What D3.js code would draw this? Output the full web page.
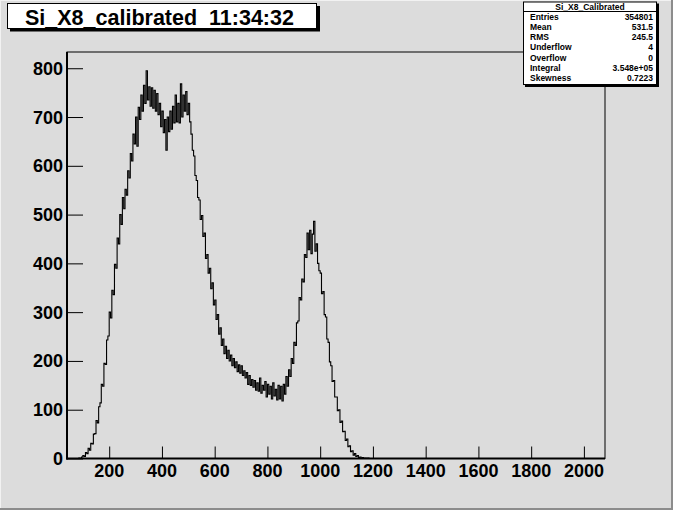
<!DOCTYPE html>
<html><head><meta charset="utf-8">
<script src="https://cdn.jsdelivr.net/npm/d3@7"></script>
<style>
html,body{margin:0;padding:0;background:#dcdcdc;}
svg{display:block;}
text{font-family:"Liberation Sans",Arial,Helvetica,sans-serif;font-weight:bold;}
</style>
</head><body>
<svg id="c" width="673" height="510"></svg>
<script>
// ---- data ----
const titleText = "Si_X8_calibrated  11:34:32";
const statsTitle = "Si_X8_Calibrated";
const statsLabels = ["Entries", "Mean", "RMS", "Underflow", "Overflow", "Integral", "Skewness"];
const statsValues = ["354801", "531.5", "245.5", "4", "0", "3.548e+05", "0.7223"];
const xTickValues = [200, 400, 600, 800, 1000, 1200, 1400, 1600, 1800, 2000];
const yTickValues = [0, 100, 200, 300, 400, 500, 600, 700, 800];
const xAxisRange = [40, 2080];
const yAxisRange = [0, 833.3];
const histRange = [50, 1200];   // histogram low / high edge (230 bins)
const counts = [
  0,0,0,0,0,0,0,1,0,3,
  6,4,12,10,21,17,31,30,50,51,
  78,73,106,114,152,148,195,193,243,251,
  300,288,345,336,398,390,452,440,500,480,
  535,512,552,540,590,575,625,610,665,645,
  700,640,720,695,745,712,765,728,795,735,
  762,722,760,718,755,712,748,705,728,680,
  712,668,695,632,700,670,712,675,722,688,
  745,690,728,688,768,700,745,712,752,705,
  728,690,665,632,620,580,570,535,530,490,
  498,455,462,410,418,380,390,348,360,315,
  325,285,295,255,268,232,245,215,230,205,
  222,200,212,190,205,186,198,178,192,175,
  190,170,180,165,176,152,170,150,162,146,
  160,140,155,138,165,134,150,140,158,126,
  152,132,148,122,155,128,142,120,150,122,
  148,118,152,132,168,148,182,168,205,195,
  238,232,278,282,330,325,368,362,418,412,
  462,428,468,420,460,486,425,440,400,385,
  380,338,342,295,290,245,238,198,190,158,
  160,126,126,98,100,74,77,55,56,37,
  40,24,26,14,16,7,10,4,6,2,
  3,1,2,0,1,0,1,0,0,0
];

// ---- drawing ----
const svg = d3.select("#c");
const W = 673, H = 510;
const fr = {l: 67, r: 605, t: 52, b: 458.5};

svg.append("rect").attr("x", 0).attr("y", 0).attr("width", W).attr("height", H).attr("fill", "#dcdcdc");
// canvas bevel
svg.append("rect").attr("x", 0).attr("y", 0).attr("width", W).attr("height", 1).attr("fill", "#f2f2f2");
svg.append("rect").attr("x", 0).attr("y", 0).attr("width", 1).attr("height", H).attr("fill", "#f2f2f2");
svg.append("rect").attr("x", W - 2).attr("y", 0).attr("width", 2).attr("height", H).attr("fill", "#8c8c8c");
svg.append("rect").attr("x", 0).attr("y", H - 2).attr("width", W).attr("height", 2).attr("fill", "#8c8c8c");

const x = d3.scaleLinear().domain(xAxisRange).range([fr.l, fr.r]);
const y = d3.scaleLinear().domain(yAxisRange).range([fr.b, fr.t]);

// frame
svg.append("rect").attr("x", fr.l).attr("y", fr.t).attr("width", fr.r - fr.l).attr("height", fr.b - fr.t)
  .attr("fill", "none").attr("stroke", "#000").attr("stroke-width", 1);

// histogram
const nb = counts.length;
const bw = (histRange[1] - histRange[0]) / nb;
const pts = counts.map((c, i) => [histRange[0] + i * bw, c]);
pts.push([histRange[1], counts[nb - 1]]);
const line = d3.line().x(d => x(d[0])).y(d => y(d[1])).curve(d3.curveStepAfter);
svg.append("path").attr("d", line(pts)).attr("fill", "none").attr("stroke", "#000")
  .attr("stroke-width", 1.1);

// x axis ticks
const gx = svg.append("g").attr("transform", `translate(0,${fr.b})`);
gx.call(d3.axisBottom(x).tickValues(x.ticks(40)).tickSize(-6).tickFormat(""));
gx.call(d3.axisBottom(x).tickValues(xTickValues).tickSize(-12).tickFormat(""));
gx.selectAll(".domain").remove();
gx.selectAll("line").attr("stroke", "#000").attr("stroke-width", 1);

// y axis ticks
const gy = svg.append("g").attr("transform", `translate(${fr.l},0)`);
gy.call(d3.axisLeft(y).tickValues(y.ticks(40)).tickSize(-8).tickFormat(""));
gy.call(d3.axisLeft(y).tickValues(yTickValues).tickSize(-16).tickFormat(""));
gy.selectAll(".domain").remove();
gy.selectAll("line").attr("stroke", "#000").attr("stroke-width", 1);

// thick axis lines
svg.append("line").attr("x1", fr.l).attr("x2", fr.l).attr("y1", fr.t).attr("y2", fr.b + 1)
  .attr("stroke", "#000").attr("stroke-width", 2);
svg.append("line").attr("x1", fr.l - 1).attr("x2", fr.r).attr("y1", fr.b).attr("y2", fr.b)
  .attr("stroke", "#000").attr("stroke-width", 2);

// labels
svg.append("g").selectAll("text").data(xTickValues).join("text")
  .attr("x", d => x(d)).attr("y", 477).attr("text-anchor", "middle")
  .attr("font-size", 18).attr("fill", "#000").text(d => d);
svg.append("g").selectAll("text").data(yTickValues).join("text")
  .attr("x", 63).attr("y", d => y(d) + 6.5).attr("text-anchor", "end")
  .attr("font-size", 18).attr("fill", "#000").text(d => d);

// title box
svg.append("rect").attr("x", 10).attr("y", 6).attr("width", 310).attr("height", 25.5).attr("fill", "#000");
svg.append("rect").attr("x", 7.5).attr("y", 3.5).attr("width", 309).attr("height", 25)
  .attr("fill", "#fff").attr("stroke", "#000").attr("stroke-width", 1);
svg.append("text").attr("x", 25).attr("y", 24.5).attr("font-size", 21.5).attr("fill", "#000")
  .attr("xml:space", "preserve").style("white-space", "pre").text(titleText);

// stats box
const sb = {x: 523, y: 1.5, w: 134, h: 83.5};
svg.append("rect").attr("x", sb.x + 2).attr("y", sb.y + 2).attr("width", sb.w).attr("height", sb.h).attr("fill", "#000");
svg.append("rect").attr("x", sb.x + 0.5).attr("y", sb.y + 0.5).attr("width", sb.w - 1).attr("height", sb.h - 1)
  .attr("fill", "#fff").attr("stroke", "#000").attr("stroke-width", 1);
svg.append("line").attr("x1", sb.x).attr("x2", sb.x + sb.w).attr("y1", 11.5).attr("y2", 11.5)
  .attr("stroke", "#000").attr("stroke-width", 1);
svg.append("text").attr("x", 590).attr("y", 9.5).attr("text-anchor", "middle")
  .attr("font-size", 8.5).attr("fill", "#000").text(statsTitle);
svg.append("g").selectAll("text").data(statsLabels).join("text")
  .attr("x", 530).attr("y", (d, i) => 19.5 + i * 10.3).attr("font-size", 8.5).attr("fill", "#000").text(d => d);
svg.append("g").selectAll("text").data(statsValues).join("text")
  .attr("x", 653).attr("y", (d, i) => 19.5 + i * 10.3).attr("text-anchor", "end")
  .attr("font-size", 8.5).attr("fill", "#000").text(d => d);
</script>
</body></html>
